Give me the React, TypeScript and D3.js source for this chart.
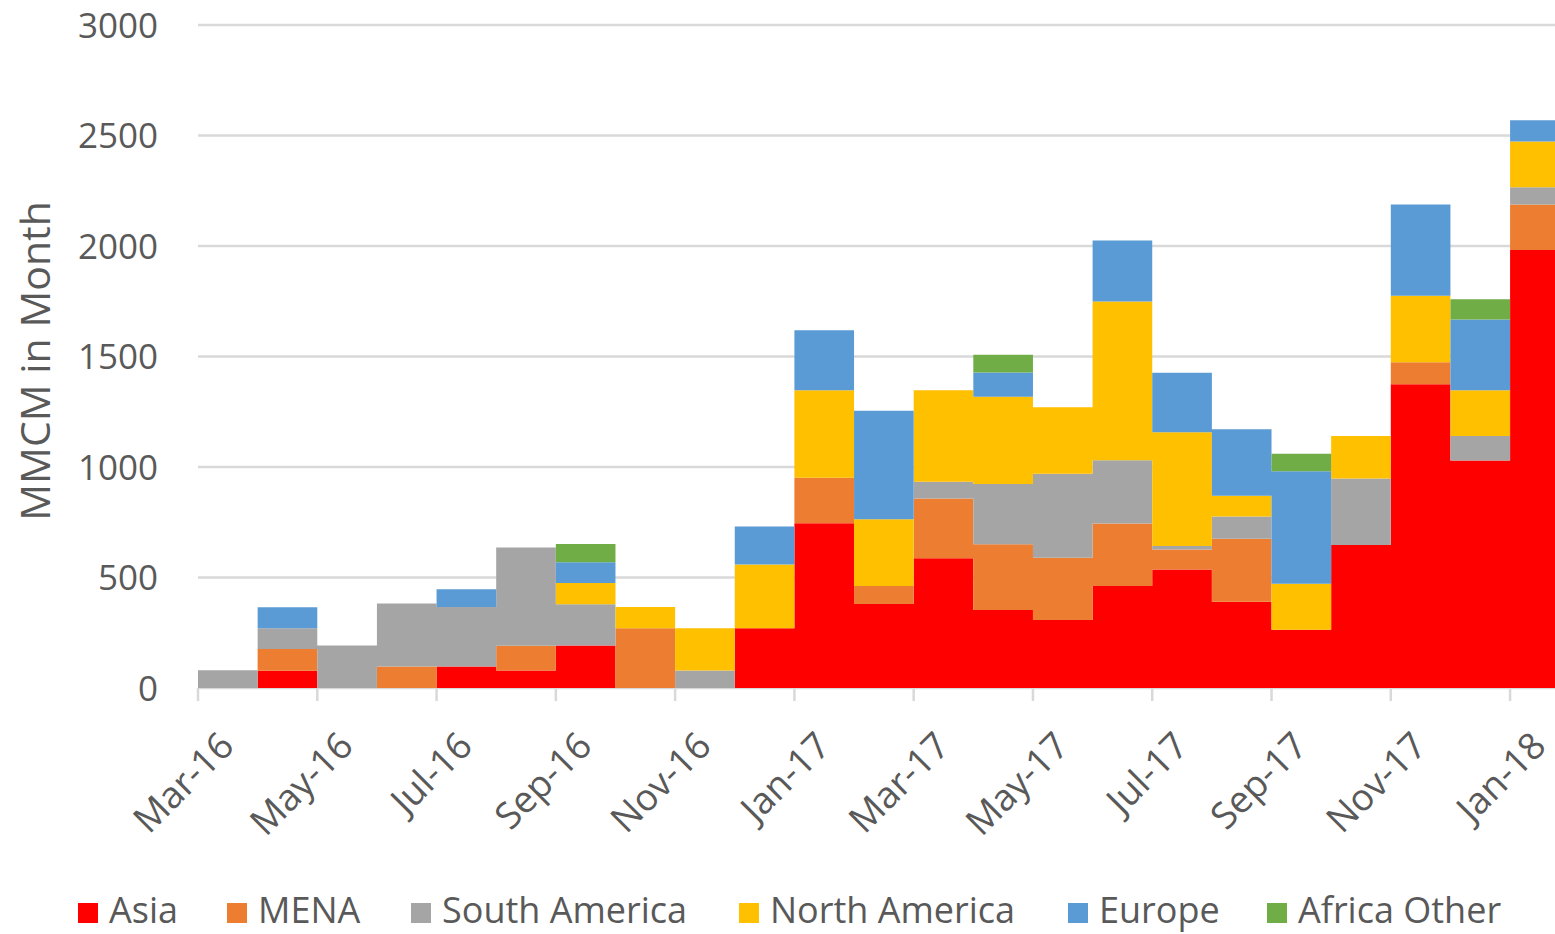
import * as d3 from "d3";

const months = [
  "Mar-16", "Apr-16", "May-16", "Jun-16", "Jul-16", "Aug-16", "Sep-16", "Oct-16",
  "Nov-16", "Dec-16", "Jan-17", "Feb-17", "Mar-17", "Apr-17", "May-17", "Jun-17",
  "Jul-17", "Aug-17", "Sep-17", "Oct-17", "Nov-17", "Dec-17", "Jan-18",
];

const asia = [0, 78, 0, 0, 97, 79, 192, 0, 0, 270, 746, 380, 587, 353, 308, 462, 536, 390, 264, 647, 1374, 1029, 1982];
const mena = [0, 98, 0, 97, 0, 112, 0, 270, 0, 0, 205, 82, 271, 298, 281, 282, 91, 285, 0, 0, 100, 0, 206];
const southAmerica = [80, 94, 192, 285, 270, 445, 187, 0, 79, 0, 0, 0, 75, 272, 380, 286, 16, 101, 0, 301, 0, 111, 78];
const northAmerica = [0, 0, 0, 0, 0, 0, 96, 96, 191, 289, 396, 302, 414, 395, 301, 719, 514, 94, 208, 192, 301, 207, 207];
const europe = [0, 95, 0, 0, 80, 0, 94, 0, 0, 172, 272, 491, 0, 110, 0, 276, 270, 301, 509, 0, 413, 320, 96];
const africaOther = [0, 0, 0, 0, 0, 0, 83, 0, 0, 0, 0, 0, 0, 80, 0, 0, 0, 0, 79, 0, 0, 92, 0];

const yTicks = [0, 500, 1000, 1500, 2000, 2500, 3000];

const series = [
  { key: "Asia", values: asia, color: "#FF0000" },
  { key: "MENA", values: mena, color: "#ED7D31" },
  { key: "South America", values: southAmerica, color: "#A5A5A5" },
  { key: "North America", values: northAmerica, color: "#FFC000" },
  { key: "Europe", values: europe, color: "#5B9BD5" },
  { key: "Africa Other", values: africaOther, color: "#70AD47" },
];

const W = 1555;
const H = 934;
const FONT = "'Open Sans', 'Noto Sans', sans-serif";
const TEXT = "#595959";
const GRID = "#D9D9D9";

// legend square x positions (layout only)
const legendX = [78, 227, 411, 739, 1068, 1267];

export default function App() {
  const step = 59.64;
  const x = d3.scaleLinear().domain([0, months.length]).range([198, 198 + months.length * step]);
  const y = d3.scaleLinear().domain([0, 3000]).range([688, 25]);

  // one row per month, plus a repeat of the last month so the step closes
  const rows = months.map((m, i) => {
    const r: Record<string, number> = { idx: i };
    series.forEach((s) => (r[s.key] = s.values[i]));
    return r;
  });
  rows.push({ ...rows[rows.length - 1], idx: months.length });

  const stacked = d3.stack<Record<string, number>>().keys(series.map((s) => s.key))(rows);

  const area = d3
    .area<d3.SeriesPoint<Record<string, number>>>()
    .x((d) => x(d.data.idx))
    .y0((d) => y(d[0]))
    .y1((d) => y(d[1]))
    .curve(d3.curveStepAfter);

  const tickIdx = months.map((_, i) => i).filter((i) => i % 2 === 0);

  return (
    <div style={{ position: "absolute", left: 0, top: 0 }}>
      <svg width={W} height={H} style={{ display: "block", background: "#fff" }} fontFamily={FONT}>
        {yTicks.filter((t) => t > 0).map((t) => (
          <line key={t} x1={x(0)} x2={W} y1={y(t)} y2={y(t)} stroke={GRID} strokeWidth={2.5} />
        ))}
        <line x1={x(0)} x2={W} y1={y(0)} y2={y(0)} stroke={GRID} strokeWidth={2.5} />
        {tickIdx.map((i) => (
          <line key={i} x1={x(i)} x2={x(i)} y1={y(0)} y2={y(0) + 13} stroke={GRID} strokeWidth={2.5} />
        ))}

        {stacked.map((layer, li) => (
          <path key={layer.key} d={area(layer) ?? ""} fill={series[li].color} />
        ))}

        {yTicks.map((t) => (
          <text key={t} x={158} y={y(t)} dy="0.36em" textAnchor="end" fontSize={35} fill={TEXT}>
            {t}
          </text>
        ))}

        <text transform={`translate(50,361) rotate(-90)`} textAnchor="middle" fontSize={41} fill={TEXT}>
          MMCM in Month
        </text>

        {tickIdx.map((i) => (
          <text
            key={i}
            transform={`translate(${x(i) + 38},${y(0) + 60}) rotate(-45)`}
            textAnchor="end"
            fontSize={37}
            fill={TEXT}
          >
            {months[i]}
          </text>
        ))}

        {series.map((s, i) => (
          <g key={s.key} transform={`translate(${legendX[i]},0)`}>
            <rect x={0} y={903} width={20} height={20} fill={s.color} />
            <text x={31} y={923} fontSize={36} fill={TEXT}>
              {s.key}
            </text>
          </g>
        ))}
      </svg>
    </div>
  );
}
